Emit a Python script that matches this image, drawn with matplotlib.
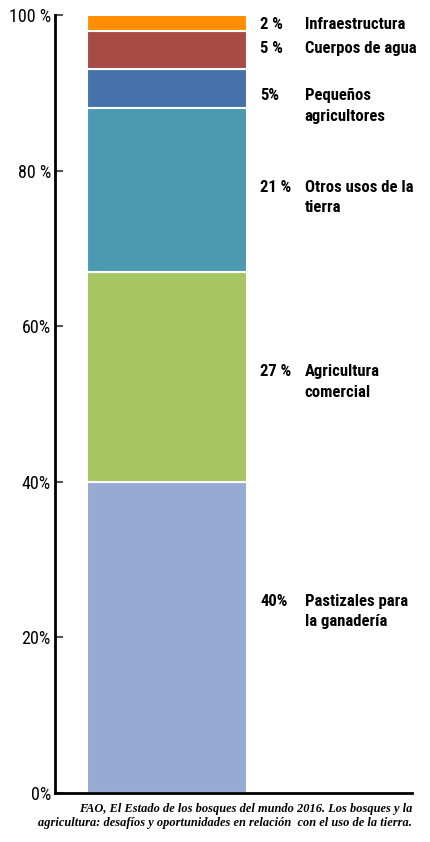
import matplotlib.pyplot as plt
from matplotlib import font_manager

# land use shares, bottom to top
shares = [40, 27, 21, 5, 5, 2]
pct_labels = ["40%", "27 %", "21 %", "5%", "5 %", "2 %"]
names = ["Pastizales para\nla ganadería", "Agricultura\ncomercial",
         "Otros usos de la\ntierra", "Pequeños\nagricultores",
         "Cuerpos de agua", "Infraestructura"]
colors = ["#97aad4", "#a6c662", "#4a9ab2", "#4672aa", "#a84a45", "#ff8f00"]
label_y = [25.6, 55.1, 78.8, 90.6, 96.7, 99.7]

ticks = [0, 20, 40, 60, 80, 100]
tick_labels = ["0%", "20%", "40%", "60%", "80 %", "100 %"]

# pick a narrow face if one is around
installed = {f.name for f in font_manager.fontManager.ttflist}
narrow = None
for cand in ["Liberation Sans Narrow", "DejaVu Sans Condensed", "Roboto Condensed",
             "Open Sans Condensed", "Noto Sans Condensed"]:
    if cand in installed:
        narrow = cand
        break
if narrow:
    plt.rcParams['font.family'] = [narrow, 'DejaVu Sans']
    lab_size, lab_weight = 12, "bold"
else:
    plt.rcParams['font.family'] = ['Roboto', 'DejaVu Sans']
    lab_size, lab_weight = 11, "medium"

fig = plt.figure(figsize=(4.3, 8.42), dpi=100)
ax = fig.add_axes([0.128, 0.0582, 0.83, 0.9240])

bottom = 0
for s, c in zip(shares, colors):
    ax.bar(0.314, s, width=0.448, bottom=bottom, color=c,
           edgecolor="white", linewidth=1.5)
    bottom += s

for y, p, n in zip(label_y, pct_labels, names):
    ax.text(0.575, y, p, va="top", ha="left", fontsize=lab_size,
            fontweight=lab_weight, linespacing=1.45)
    ax.text(0.7, y, n, va="top", ha="left", fontsize=lab_size,
            fontweight=lab_weight, linespacing=1.45)

ax.set_xlim(0, 1)
ax.set_ylim(0, 100)
ax.set_xticks([])
ax.set_yticks(ticks)
ax.set_yticklabels(tick_labels, fontsize=lab_size + 1)
ax.tick_params(axis="y", direction="in", length=6, width=1.5, color="#555555", pad=3)
for s in ["top", "right"]:
    ax.spines[s].set_visible(False)
ax.spines["left"].set_linewidth(2)
ax.spines["bottom"].set_linewidth(2)

fig.text(0.958, 0.031,
         "FAO, El Estado de los bosques del mundo 2016. Los bosques y la\n"
         "agricultura: desafíos y oportunidades en relación  con el uso de la tierra.",
         ha="right", va="center", fontsize=8.9, fontstyle="italic", fontweight="bold",
         family=["Liberation Serif", "DejaVu Serif"], linespacing=1.3)

fig.savefig("out.png")
